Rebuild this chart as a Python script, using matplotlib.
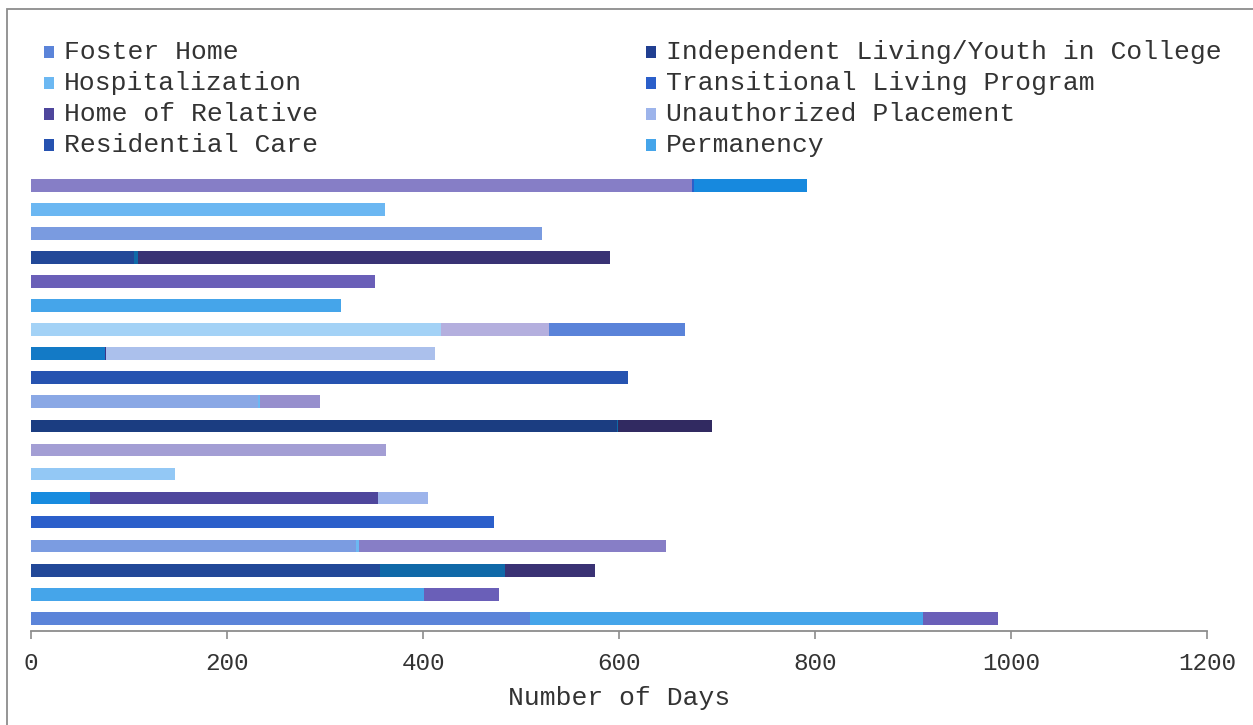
import matplotlib
matplotlib.use("Agg")
import matplotlib.pyplot as plt
from matplotlib.patches import Rectangle

plt.rcParams['font.family'] = ['Liberation Mono', 'DejaVu Sans Mono']

# legend entries and their colours
series = ["Foster Home", "Hospitalization", "Home of Relative", "Residential Care",
          "Independent Living/Youth in College", "Transitional Living Program",
          "Unauthorized Placement", "Permanency"]
series_colors = ["#5B84D9", "#6CB8F2", "#4E469C", "#2652B0",
                 "#213F91", "#2B5FCA", "#9DB4EB", "#45A5EA"]

# stacked segments per case, listed top to bottom (days)
seg1 = [674, 361, 521, 105, 351, 316, 418, 75, 609, 232, 598, 362, 147, 60, 472, 332, 356, 401, 509]
seg2 = [3, 0, 0, 4, 0, 0, 111, 2, 0, 2, 1, 0, 0, 294, 0, 3, 128, 77, 401]
seg3 = [115, 0, 0, 482, 0, 0, 138, 335, 0, 61, 96, 0, 0, 51, 0, 313, 91, 0, 77]

# every segment has its own colour in the original
col1 = ["#867EC6", "#6BB7F2", "#7A9BE0", "#224898", "#6A5FB8", "#45A5EA", "#A3D2F6", "#137AC6",
        "#2653B0", "#8AA8E5", "#1B3D81", "#A39ED4", "#93C8F5", "#178BDF", "#2B5FCA", "#7B9CE1",
        "#224898", "#45A5EA", "#5B84D9"]
col2 = ["#2B5FCA", "#FFFFFF", "#FFFFFF", "#0F6AA8", "#FFFFFF", "#FFFFFF", "#B4AFDE", "#3D3587",
        "#FFFFFF", "#6CB8F2", "#0F6AA8", "#FFFFFF", "#FFFFFF", "#4E469C", "#FFFFFF", "#6CB8F2",
        "#1069A8", "#6A5FB8", "#45A5EA"]
col3 = ["#1789DE", "#FFFFFF", "#FFFFFF", "#393274", "#FFFFFF", "#FFFFFF", "#5A83D9", "#ABC0EC",
        "#FFFFFF", "#978FCD", "#312A61", "#FFFFFF", "#FFFFFF", "#9DB4EB", "#FFFFFF", "#877EC6",
        "#3A3274", "#FFFFFF", "#6A5FB8"]

W, H = 1253, 725
fig = plt.figure(figsize=(W / 100, H / 100), dpi=100)
ax = fig.add_axes([31 / W, 1 - 631 / H, (1207 - 31) / W, (631 - 172) / H])

rows = list(range(len(seg1)))
left2 = [a for a in seg1]
left3 = [a + b for a, b in zip(seg1, seg2)]
ax.barh(rows, seg1, height=0.54, color=col1, linewidth=0)
ax.barh(rows, seg2, left=left2, height=0.54, color=col2, linewidth=0)
ax.barh(rows, seg3, left=left3, height=0.54, color=col3, linewidth=0)

ax.set_xlim(0, 1200)
ax.set_ylim(18.54, -0.58)
ax.set_xticks(range(0, 1201, 200))
ax.set_yticks([])
for s in ["top", "right", "left"]:
    ax.spines[s].set_visible(False)
ax.spines["bottom"].set_color("#8C8C8C")
ax.spines["bottom"].set_linewidth(1.3)
ax.tick_params(axis="x", colors="#8C8C8C", length=6, width=1.2, pad=9,
               labelsize=17.5, labelcolor="#333333")
ax.set_xlabel("Number of Days", fontsize=19, color="#333333", labelpad=8)

# legend in two columns
for i, (name, c) in enumerate(zip(series, series_colors)):
    col, row = divmod(i, 4)
    x0 = 44 if col == 0 else 646
    yc = 52 + 31 * row
    fig.add_artist(Rectangle((x0 / W, 1 - (yc + 6) / H), 10 / W, 12 / H,
                             transform=fig.transFigure, color=c, lw=0))
    fig.text((x0 + 20) / W, 1 - yc / H, name, fontsize=19, color="#333333",
             va="center", ha="left")

# outer frame
fig.add_artist(Rectangle((7 / W, -0.1), 1.2, 1.1 - 9 / H, transform=fig.transFigure,
                         fill=False, edgecolor="#8C8C8C", lw=1.3))

fig.savefig("out.png", dpi=100)
